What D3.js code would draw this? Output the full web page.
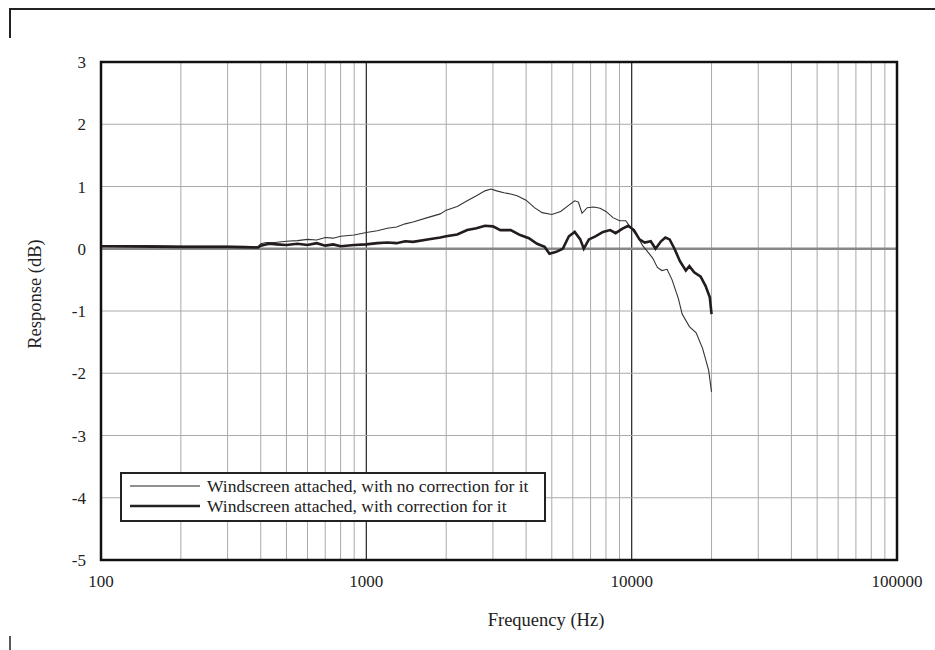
<!DOCTYPE html>
<html lang="en">
<head>
    <meta charset="UTF-8">
    <title>Windscreen Response</title>
    <script src="https://d3js.org/d3.v7.min.js"></script>
    <style>
        body { margin: 0; background: #fff; }
        svg { display: block; font-family: "Liberation Serif", "DejaVu Serif", serif; }
        .tick-label { font-size: 17px; fill: #222; }
        .axis-title { font-size: 18.5px; fill: #222; }
        .legend-text { font-size: 17.5px; fill: #222; }
    </style>
</head>
<body>
    <svg id="chart" width="935" height="650"></svg>

    <script>
    // frequency (Hz) / response (dB)
    const noCorrFreq = [100, 150, 200, 250, 300, 350, 390, 400, 420, 450, 500, 550, 600, 650, 700, 750, 800, 900,
        1000, 1100, 1200, 1300, 1400, 1500, 1700, 1900, 2000, 2200, 2400, 2600, 2800, 2950, 3100, 3300, 3500, 3700,
        4000, 4300, 4600, 5000, 5400, 5800, 6100, 6300, 6500, 6800, 7200, 7600, 8000, 8500, 9000, 9500, 10000,
        10500, 11000, 11500, 12000, 12500, 13000, 13600, 14200, 15000, 15500, 16500, 17500, 18500, 19500, 20000];
    const noCorrDb = [0.05, 0.05, 0.04, 0.04, 0.04, 0.04, 0.03, 0.08, 0.1, 0.1, 0.12, 0.13, 0.15, 0.14, 0.18, 0.17, 0.2, 0.22,
        0.26, 0.29, 0.33, 0.35, 0.4, 0.43, 0.5, 0.56, 0.62, 0.68, 0.77, 0.85, 0.93, 0.96, 0.93, 0.9, 0.88, 0.85,
        0.78, 0.66, 0.58, 0.55, 0.6, 0.7, 0.77, 0.75, 0.57, 0.66, 0.67, 0.65, 0.6, 0.5, 0.45, 0.45, 0.32,
        0.2, 0.05, -0.05, -0.15, -0.3, -0.35, -0.33, -0.5, -0.8, -1.05, -1.25, -1.35, -1.6, -1.95, -2.3];

    const corrFreq = [100, 200, 300, 390, 400, 430, 460, 500, 550, 600, 650, 700, 750, 800, 900,
        1000, 1100, 1200, 1300, 1400, 1500, 1700, 1900, 2000, 2200, 2400, 2600, 2800, 3000, 3200, 3500, 3800,
        4100, 4400, 4700, 4900, 5200, 5500, 5800, 6100, 6400, 6600, 6900, 7300, 7800, 8300, 8700, 9200, 9700,
        10200, 10700, 11200, 11800, 12300, 12900, 13400, 13900, 14500, 15200, 16000, 16500, 17200, 18200,
        19000, 19700, 20000];
    const corrDb = [0.04, 0.03, 0.03, 0.02, 0.05, 0.08, 0.07, 0.06, 0.08, 0.06, 0.09, 0.05, 0.07, 0.04, 0.06,
        0.07, 0.09, 0.1, 0.09, 0.12, 0.11, 0.15, 0.18, 0.2, 0.23, 0.3, 0.33, 0.37, 0.36, 0.3, 0.3, 0.22,
        0.17, 0.08, 0.03, -0.08, -0.05, 0.0, 0.2, 0.27, 0.15, 0.0, 0.15, 0.2, 0.27, 0.3, 0.25, 0.32, 0.37,
        0.3, 0.15, 0.1, 0.12, 0.0, 0.12, 0.18, 0.15, 0.0, -0.2, -0.35, -0.28, -0.38, -0.45,
        -0.6, -0.78, -1.05];

    const xTicks = [100, 1000, 10000, 100000];
    const yTicks = [3, 2, 1, 0, -1, -2, -3, -4, -5];
    const seriesNames = ["Windscreen attached, with no correction for it", "Windscreen attached, with correction for it"];

    const svg = d3.select('#chart');
    const plotLeft = 101, plotRight = 897, plotTop = 62, plotBottom = 560;

    const x = d3.scaleLog().domain([100, 100000]).range([plotLeft, plotRight]);
    const y = d3.scaleLinear().domain([-5, 3]).range([plotBottom, plotTop]);

    svg.append('rect').attr('width', 935).attr('height', 650).attr('fill', '#fff');

    // page frame marks
    svg.append('path')
        .attr('d', 'M10,38 V9 H935')
        .attr('fill', 'none').attr('stroke', '#222').attr('stroke-width', 2);
    svg.append('path')
        .attr('d', 'M10,636 V650')
        .attr('fill', 'none').attr('stroke', '#222').attr('stroke-width', 1.5);

    // minor vertical grid
    const minor = [];
    [100, 1000, 10000].forEach(d => { for (let k = 2; k <= 9; k++) minor.push(d * k); });
    svg.append('g').selectAll('line')
        .data(minor)
        .join('line')
        .attr('x1', d => x(d)).attr('x2', d => x(d))
        .attr('y1', plotTop).attr('y2', plotBottom)
        .attr('stroke', '#aaa').attr('stroke-width', 1);

    // decade lines
    svg.append('g').selectAll('line')
        .data([1000, 10000])
        .join('line')
        .attr('x1', d => x(d)).attr('x2', d => x(d))
        .attr('y1', plotTop).attr('y2', plotBottom)
        .attr('stroke', '#333').attr('stroke-width', 1.3);

    // horizontal grid
    svg.append('g').selectAll('line')
        .data(yTicks)
        .join('line')
        .attr('x1', plotLeft).attr('x2', plotRight)
        .attr('y1', d => y(d)).attr('y2', d => y(d))
        .attr('stroke', d => d === 0 ? '#888' : '#aaa')
        .attr('stroke-width', d => d === 0 ? 2.5 : 1);

    // curves
    const line = d3.line()
        .x(d => x(d[0]))
        .y(d => y(d[1]));

    svg.append('path')
        .datum(d3.zip(noCorrFreq, noCorrDb))
        .attr('d', line)
        .attr('fill', 'none').attr('stroke', '#333').attr('stroke-width', 1.1);

    svg.append('path')
        .datum(d3.zip(corrFreq, corrDb))
        .attr('d', line)
        .attr('fill', 'none').attr('stroke', '#221c1c').attr('stroke-width', 2.6);

    // plot frame
    svg.append('rect')
        .attr('x', plotLeft).attr('y', plotTop)
        .attr('width', plotRight - plotLeft).attr('height', plotBottom - plotTop)
        .attr('fill', 'none').attr('stroke', '#111').attr('stroke-width', 2.5);

    // tick labels
    svg.append('g').selectAll('text')
        .data(yTicks)
        .join('text')
        .attr('class', 'tick-label')
        .attr('x', 86).attr('y', d => y(d) + 6)
        .attr('text-anchor', 'end')
        .text(d => d);

    svg.append('g').selectAll('text')
        .data(xTicks)
        .join('text')
        .attr('class', 'tick-label')
        .attr('x', d => x(d)).attr('y', 587)
        .attr('text-anchor', 'middle')
        .text(d => d);

    // axis titles
    svg.append('text')
        .attr('class', 'axis-title')
        .attr('transform', 'translate(41,294) rotate(-90)')
        .attr('text-anchor', 'middle')
        .text('Response (dB)');

    svg.append('text')
        .attr('class', 'axis-title')
        .attr('x', 546).attr('y', 626)
        .attr('text-anchor', 'middle')
        .text('Frequency (Hz)');

    // legend
    const legend = svg.append('g');
    legend.append('rect')
        .attr('x', 121).attr('y', 473)
        .attr('width', 424).attr('height', 48)
        .attr('fill', '#fff').attr('stroke', '#222').attr('stroke-width', 2);
    const legendWidths = [1.1, 2.6];
    seriesNames.forEach((name, i) => {
        const ly = 486 + i * 20;
        legend.append('line')
            .attr('x1', 130).attr('x2', 200)
            .attr('y1', ly).attr('y2', ly)
            .attr('stroke', '#222').attr('stroke-width', legendWidths[i]);
        legend.append('text')
            .attr('class', 'legend-text')
            .attr('x', 207).attr('y', ly + 6)
            .text(name);
    });
    </script>
</body>
</html>
